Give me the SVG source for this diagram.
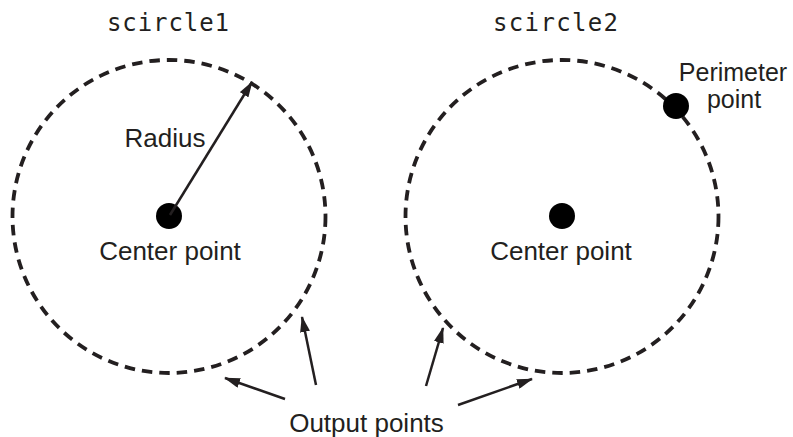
<svg xmlns="http://www.w3.org/2000/svg" width="793" height="437" viewBox="0 0 793 437">
<defs>
<style>
.lbl{font-family:"Liberation Sans",Arial,sans-serif;font-size:26px;fill:#231f20;text-anchor:middle}
.sm{font-size:25px}
.mono{font-family:"DejaVu Sans Mono",monospace;font-size:24px;fill:#231f20}
.ring{fill:none;stroke:#231f20;stroke-width:3.8;stroke-dasharray:10.5 7}
.dot{fill:#000}
.arr{stroke:#231f20;stroke-width:2.5;fill:none;marker-end:url(#ah)}
</style>
<marker id="ah" viewBox="0 0 16 10" refX="15" refY="5" markerWidth="16" markerHeight="10" markerUnits="userSpaceOnUse" orient="auto">
<path d="M0,0 L16,5 L0,10 Z" fill="#231f20"/>
</marker>
</defs>
<rect width="793" height="437" fill="#fff"/>
<g id="scircle1">
<text class="mono" x="107" y="31" textLength="122" lengthAdjust="spacing">scircle1</text>
<circle class="ring" cx="169" cy="216.5" r="156.5"/>
</g>
<g id="scircle2">
<text class="mono" x="493" y="31" textLength="125" lengthAdjust="spacing">scircle2</text>
<circle class="ring" cx="562" cy="216.5" r="156.5"/>
</g>
<g id="center1">
<circle class="dot" cx="169" cy="216" r="13"/>
<text class="lbl" x="170" y="260">Center point</text>
</g>
<g id="center2">
<circle class="dot" cx="562" cy="216" r="13"/>
<text class="lbl" x="561" y="260">Center point</text>
</g>
<g id="perimeter">
<circle class="dot" cx="676" cy="106" r="13"/>
<text class="lbl sm" x="733" y="81">Perimeter</text>
<text class="lbl sm" x="734" y="108">point</text>
</g>
<g id="radius-label">
<text class="lbl" x="165" y="147">Radius</text>
</g>
<g id="output-label">
<text class="lbl" x="366.5" y="432">Output points</text>
</g>
<g id="connectors">
<line class="arr" x1="170" y1="215" x2="252" y2="82"/>
<line class="arr" x1="285" y1="399" x2="225" y2="378"/>
<line class="arr" x1="316" y1="385" x2="302" y2="317"/>
<line class="arr" x1="426" y1="386" x2="443" y2="328"/>
<line class="arr" x1="458" y1="405" x2="532" y2="379"/>
</g>
</svg>
